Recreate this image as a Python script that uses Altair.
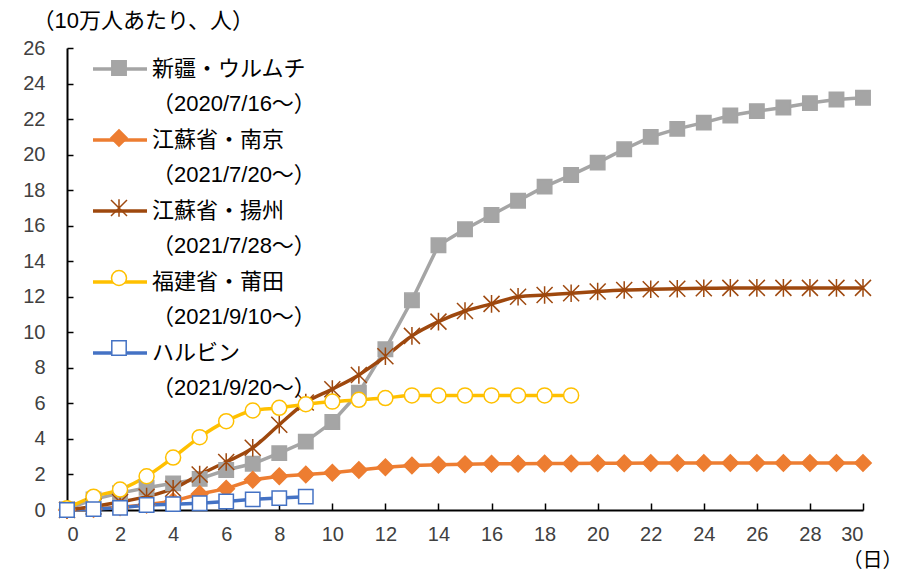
import altair as alt
import pandas as pd

# ---- data ----
names = ["新疆・ウルムチ", "江蘇省・南京", "江蘇省・揚州", "福建省・莆田", "ハルビン"]
starts = ["（2020/7/16～）", "（2021/7/20～）", "（2021/7/28～）", "（2021/9/10～）", "（2021/9/20～）"]

urumqi = [0.05, 0.6, 0.95, 1.25, 1.5, 1.75, 2.25, 2.6, 3.2, 3.85, 4.95, 6.6, 9.05, 11.8, 14.9,
          15.8, 16.6, 17.4, 18.2, 18.85, 19.55, 20.3, 21.0, 21.45, 21.8, 22.2, 22.45, 22.65,
          22.9, 23.1, 23.2]
nanjing = [0.0, 0.05, 0.15, 0.3, 0.5, 0.9, 1.2, 1.7, 1.9, 2.0, 2.1, 2.25, 2.4, 2.5, 2.55,
           2.58, 2.6, 2.6, 2.62, 2.62, 2.63, 2.63, 2.64, 2.64, 2.64, 2.64, 2.65, 2.65, 2.65,
           2.65, 2.65]
yangzhou = [0.0, 0.2, 0.45, 0.75, 1.2, 2.0, 2.7, 3.5, 4.8, 6.05, 6.8, 7.6, 8.65, 9.8, 10.6,
            11.2, 11.6, 12.0, 12.1, 12.2, 12.3, 12.38, 12.42, 12.45, 12.48, 12.5, 12.5, 12.5,
            12.5, 12.5, 12.5]
putian = [0.1, 0.75, 1.15, 1.9, 2.95, 4.1, 5.0, 5.6, 5.75, 5.95, 6.1, 6.2, 6.3, 6.45, 6.45,
          6.45, 6.45, 6.45, 6.45, 6.45]
harbin = [0.0, 0.05, 0.12, 0.28, 0.33, 0.38, 0.48, 0.6, 0.67, 0.75]

series_values = [urumqi, nanjing, yangzhou, putian, harbin]
smooth = [False, False, True, True, False]

x_ticks = list(range(0, 31, 2))
y_ticks = list(range(0, 27, 2))

# ---- styles ----
colors = ["#A5A5A5", "#ED7D31", "#9E480E", "#FFC000", "#4472C4"]
fills = ["#A5A5A5", "#ED7D31", "#9E480E", "#FFFFFF", "#FFFFFF"]
# marker paths (unit = half of sqrt(size); size 1600 -> 20 px per unit)
sq = "M-0.36,-0.36H0.36V0.36H-0.36Z"
dia = "M0,-0.41L0.41,0L0,0.41L-0.41,0Z"
ast = "M-0.4,-0.4L0.4,0.4M-0.4,0.4L0.4,-0.4M0,-0.44L0,0.44"
r = 0.375
k = 0.2071
cir = (f"M{r},0C{r},{k} {k},{r} 0,{r}C-{k},{r} -{r},{k} -{r},0"
       f"C-{r},-{k} -{k},-{r} 0,-{r}C{k},-{r} {r},-{k} {r},0Z")
legend_line = "M-1.35,0H1.35"
shapes = [sq, dia, ast, cir, sq]
line_widths = [3.5, 3.5, 4.0, 5.0, 4.0]
SYM = 1600

labels = [n + "|" + s for n, s in zip(names, starts)]
# keys used by the marker layer (distinct from the line keys so the two legends stay apart)
labels_m = [lab + "|m" for lab in labels]

rows = []
for lab, lab_m, vals, sm in zip(labels, labels_m, series_values, smooth):
    for d, v in enumerate(vals):
        rows.append({"day": d, "value": v, "series": lab, "series2": lab_m, "smooth": sm})
df = pd.DataFrame(rows)

NUM_FONT = "Liberation Sans, Arial, Noto Sans CJK JP"
JP_FONT = "Liberation Sans, Noto Sans CJK JP"

xscale = alt.Scale(domain=[0, 30], nice=False, zero=False)
yscale = alt.Scale(domain=[0, 26], nice=False)

x_main = alt.X("day:Q", scale=xscale, axis=alt.Axis(
    values=x_ticks, ticks=False, tickSize=0, labelPadding=14, grid=False,
    domainColor="#000000", domainWidth=2, labelFont=NUM_FONT, labelFontSize=20,
    labelColor="#404040", title="（日）", titleFont=JP_FONT, titleFontSize=20,
    titleFontWeight="normal", titleColor="#000000", titleAngle=0,
    titleX=805, titleY=50, titleAlign="center", titleBaseline="middle"))
y_main = alt.Y("value:Q", scale=yscale, axis=alt.Axis(
    values=y_ticks, ticks=False, tickSize=0, labelPadding=22, grid=False,
    domainColor="#000000", domainWidth=2, labelFont=NUM_FONT, labelFontSize=20,
    labelColor="#404040", title="（10万人あたり、人）", titleFont=JP_FONT,
    titleFontSize=22, titleFontWeight="normal", titleColor="#000000", titleAngle=0,
    titleX=-35, titleY=-28, titleAlign="left", titleBaseline="middle"))

x_tick = alt.X("day:Q", scale=xscale, axis=alt.Axis(
    orient="bottom", values=x_ticks, offset=-7, ticks=True, tickSize=7, tickWidth=1.5,
    tickColor="#000000", labels=False, domain=False, grid=False, title=None))
y_tick = alt.Y("value:Q", scale=yscale, axis=alt.Axis(
    orient="left", values=y_ticks, offset=-6, ticks=True, tickSize=6, tickWidth=1.5,
    tickColor="#000000", labels=False, domain=False, grid=False, title=None))

LEG_X = 31
LEG_Y = -1
legend_common = dict(title=None, orient="none", legendX=LEG_X, legendY=LEG_Y, padding=0,
                     labelFont=JP_FONT, labelFontSize=22, labelColor="#000000",
                     labelLimit=500, rowPadding=3, labelBaseline="middle",
                     symbolSize=SYM, labelOffset=10)

line_legend = alt.Legend(symbolType=legend_line, symbolStrokeWidth=3.5,
                         symbolFillColor="transparent",
                         labelExpr="split(datum.label, '|')", **legend_common)
# marker legend sits on top of the line legend; its two label lines are blank
point_legend = alt.Legend(symbolStrokeWidth=1.5, symbolFillColor="#FFFFFF",
                          symbolStrokeColor="#000000",
                          labelExpr="[' ', ' ']", **legend_common)

stroke_enc = alt.Stroke("series:N", scale=alt.Scale(domain=labels, range=colors),
                        legend=line_legend)
sw_enc = alt.StrokeWidth("series:N", scale=alt.Scale(domain=labels, range=line_widths),
                         legend=None)

base = alt.Chart(df)

lines_straight = base.transform_filter("!datum.smooth").mark_line(
    interpolate="linear").encode(x=x_main, y=y_main, stroke=stroke_enc,
                                 strokeWidth=sw_enc, order="day:Q")
lines_smooth = base.transform_filter("datum.smooth").mark_line(
    interpolate="monotone").encode(
    x=alt.X("day:Q", scale=xscale, axis=None),
    y=alt.Y("value:Q", scale=yscale, axis=None),
    stroke=stroke_enc, strokeWidth=sw_enc, order="day:Q")

points = base.mark_point(filled=False, size=SYM, strokeWidth=1.5, opacity=1).encode(
    x=x_tick, y=y_tick,
    color=alt.Color("series2:N", scale=alt.Scale(domain=labels_m, range=colors), legend=point_legend),
    fill=alt.Fill("series2:N", scale=alt.Scale(domain=labels_m, range=fills), legend=point_legend),
    shape=alt.Shape("series2:N", scale=alt.Scale(domain=labels_m, range=shapes), legend=point_legend),
)

chart = alt.layer(lines_straight, lines_smooth, points).resolve_axis(
    x="independent", y="independent"
).properties(
    width=796, height=462,
    autosize=alt.AutoSizeParams(type="none"),
    padding={"left": 67, "top": 48, "right": 45, "bottom": 61},
    background="#FFFFFF",
).configure(
    style={"guide-label": {"lineHeight": 35}},
    view=alt.ViewConfig(stroke=None),
)

chart.save("out.html", embed_options={"renderer": "svg", "actions": False})
